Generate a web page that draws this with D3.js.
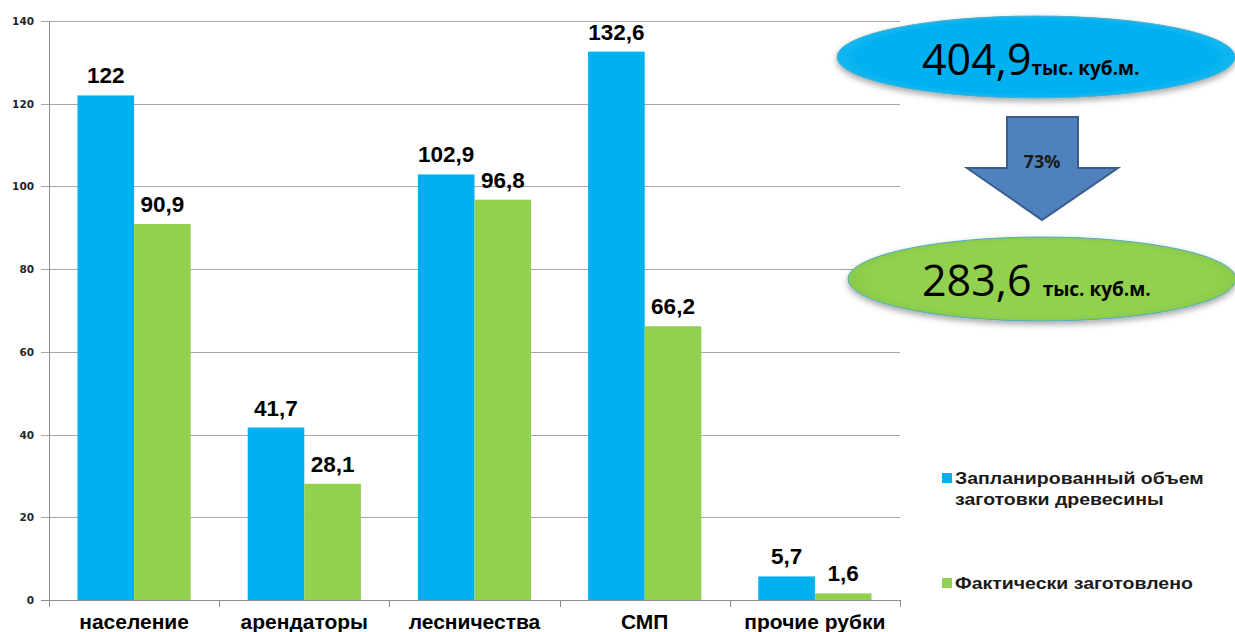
<!DOCTYPE html>
<html>
<head>
<meta charset="utf-8">
<script src="https://cdn.jsdelivr.net/npm/d3@7"></script>
<style>
  body { margin: 0; background: #fff; }
  svg { display: block; }
</style>
</head>
<body>
<div id="chart"></div>
<script>
// Data
var categories = ["население", "арендаторы", "лесничества", "СМП", "прочие рубки"];
var seriesNames = ["Запланированный объем заготовки древесины", "Фактически заготовлено"];
var planned = [122, 41.7, 102.9, 132.6, 5.7];
var actual = [90.9, 28.1, 96.8, 66.2, 1.6];
var yTicks = [0, 20, 40, 60, 80, 100, 120, 140];
var totalPlanned = "404,9";
var totalActual = "283,6";
var percentDone = "73%";
var unitLabel = "тыс. куб.м.";

var colors = ["#00B0F0", "#92D050"];

var width = 1235, height = 632;
// plot area (note: "top" is a reserved window prop, so use a prefix)
var plotLeft = 49, plotRight = 900, plotTop = 21, plotBottom = 600;

var svg = d3.select("#chart").append("svg")
  .attr("width", width)
  .attr("height", height);

var defs = svg.append("defs");
var shadow = defs.append("filter").attr("id", "shadow")
  .attr("x", "-10%").attr("y", "-20%").attr("width", "120%").attr("height", "150%");
shadow.append("feDropShadow")
  .attr("dx", 0).attr("dy", 3).attr("stdDeviation", 3)
  .attr("flood-color", "#000").attr("flood-opacity", 0.35);

var blueGrad = defs.append("radialGradient").attr("id", "blueGrad")
  .attr("cx", "50%").attr("cy", "50%").attr("r", "55%");
blueGrad.append("stop").attr("offset", "0%").attr("stop-color", "#00B0F0");
blueGrad.append("stop").attr("offset", "80%").attr("stop-color", "#00B0F0");
blueGrad.append("stop").attr("offset", "100%").attr("stop-color", "#25BDF2");

var greenGrad = defs.append("radialGradient").attr("id", "greenGrad")
  .attr("cx", "50%").attr("cy", "50%").attr("r", "55%");
greenGrad.append("stop").attr("offset", "0%").attr("stop-color", "#92D050");
greenGrad.append("stop").attr("offset", "80%").attr("stop-color", "#92D050");
greenGrad.append("stop").attr("offset", "100%").attr("stop-color", "#86C444");

// scales
var x0 = d3.scaleBand().domain(categories).range([plotLeft, plotRight]);
var bw = x0.bandwidth();
var x1 = d3.scaleBand().domain([0, 1]).range([28.5, bw - 28.5]);
var y = d3.scaleLinear().domain([0, 140]).range([plotBottom, plotTop]);

// gridlines
svg.append("g")
  .selectAll("line")
  .data(yTicks)
  .enter()
  .append("line")
    .attr("x1", plotLeft - 8)
    .attr("x2", plotRight)
    .attr("y1", d => Math.round(y(d)) + 0.5)
    .attr("y2", d => Math.round(y(d)) + 0.5)
    .attr("stroke", d => d == 0 ? "#8c8c8c" : "#a6a6a6")
    .attr("stroke-width", 1)

// y axis line
svg.append("line")
  .attr("x1", plotLeft + 0.5).attr("x2", plotLeft + 0.5)
  .attr("y1", y(140)).attr("y2", y(0))
  .attr("stroke", "#8c8c8c")

// y tick labels
svg.append("g")
  .selectAll("text")
  .data(yTicks)
  .enter()
  .append("text")
    .attr("x", 34)
    .attr("y", d => y(d) + 4)
    .attr("text-anchor", "end")
    .style("font-family", "DejaVu Sans")
    .style("font-weight", "bold")
    .style("font-size", "10.5px")
    .style("fill", "#262626")
    .text(d => d)

// category ticks
svg.append("g")
  .selectAll("line")
  .data(d3.range(categories.length + 1))
  .enter()
  .append("line")
    .attr("x1", i => Math.round(plotLeft + i * bw) + 0.5)
    .attr("x2", i => Math.round(plotLeft + i * bw) + 0.5)
    .attr("y1", plotBottom)
    .attr("y2", plotBottom + 7)
    .attr("stroke", "#8c8c8c")

// bars
var groups = svg.append("g")
  .selectAll("g")
  .data(categories)
  .enter()
  .append("g")
    .attr("transform", d => "translate(" + x0(d) + ",0)");

var barData = function(d) { var i = categories.indexOf(d); return [planned[i], actual[i]]; };

groups.selectAll("rect")
  .data(barData)
  .enter()
  .append("rect")
    .attr("x", (v, j) => x1(j))
    .attr("width", x1.bandwidth())
    .attr("y", v => y(v))
    .attr("height", v => y(0) - y(v))
    .attr("fill", (v, j) => colors[j])

// value labels
groups.selectAll("text.val")
  .data(barData)
  .enter()
  .append("text")
    .attr("class", "val")
    .attr("x", (v, j) => x1(j) + x1.bandwidth() / 2)
    .attr("y", v => y(v) - 12)
    .attr("text-anchor", "middle")
    .style("font-family", "Liberation Sans, Arial")
    .style("font-weight", "bold")
    .style("font-size", "22.5px")
    .style("fill", "#000")
    .text(v => String(v).replace(".", ","))

// category labels
svg.append("g")
  .selectAll("text")
  .data(categories)
  .enter()
  .append("text")
    .attr("x", d => x0(d) + bw / 2)
    .attr("y", 629)
    .attr("text-anchor", "middle")
    .style("font-family", "Liberation Sans, Arial")
    .style("font-weight", "bold")
    .style("font-size", "21px")
    .style("fill", "#000")
    .text(d => d)

// legend
var legendRows = [
  { lines: ["Запланированный объем", "заготовки древесины"], y: 484 },
  { lines: ["Фактически заготовлено"], y: 589 }
];
var legend = svg.append("g");
legendRows.forEach(function(row, i) {
  legend.append("rect")
    .attr("x", 942).attr("y", row.y - 11)
    .attr("width", 10).attr("height", 10)
    .attr("fill", colors[i]);
  row.lines.forEach(function(line, k) {
    legend.append("text")
      .attr("transform", "translate(955," + (row.y + k * 21) + ") scale(1.22,1)")
      .style("font-family", "Liberation Sans, Arial")
      .style("font-weight", "bold")
      .style("font-size", "16px")
      .style("fill", "#1a1a1a")
      .text(line);
  });
});

// summary ellipses
var blueE = { cx: 1036, cy: 57, rx: 199, ry: 41 };
svg.append("ellipse")
  .attr("cx", blueE.cx).attr("cy", blueE.cy)
  .attr("rx", blueE.rx).attr("ry", blueE.ry)
  .attr("fill", "url(#blueGrad)")
  .attr("stroke", "#4BACC6").attr("stroke-width", 1)
  .attr("filter", "url(#shadow)")

var t1 = svg.append("text")
  .attr("x", 922).attr("y", 75)
  .style("font-family", "Open Sans")
  .style("fill", "#000");
t1.append("tspan").style("font-size", "43px").text(totalPlanned);
t1.append("tspan").style("font-size", "19px").style("font-weight", "bold").text(unitLabel);

// arrow
var ax = 1042;
var arrow = [
  [ax - 35, 117], [ax + 36, 117], [ax + 36, 168], [ax + 76, 168],
  [ax, 220], [ax - 75, 168], [ax - 35, 168]
];
svg.append("path")
  .attr("d", d3.line()(arrow) + "Z")
  .attr("fill", "#4F81BD")
  .attr("stroke", "#385D8A")
  .attr("stroke-width", 2)

svg.append("text")
  .attr("x", ax).attr("y", 168)
  .attr("text-anchor", "middle")
  .style("font-family", "Open Sans")
  .style("font-weight", "bold")
  .style("font-size", "18px")
  .style("fill", "#1a1a1a")
  .text(percentDone)

var greenE = { cx: 1042, cy: 279, rx: 194, ry: 42 };
svg.append("ellipse")
  .attr("cx", greenE.cx).attr("cy", greenE.cy)
  .attr("rx", greenE.rx).attr("ry", greenE.ry)
  .attr("fill", "url(#greenGrad)")
  .attr("stroke", "#4BACC6").attr("stroke-width", 1)
  .attr("filter", "url(#shadow)")

var t2 = svg.append("text")
  .attr("x", 922).attr("y", 296)
  .style("font-family", "Open Sans")
  .style("fill", "#000");
t2.append("tspan").style("font-size", "43px").text(totalActual + " ");
t2.append("tspan").style("font-size", "19px").style("font-weight", "bold").text(unitLabel);
</script>
</body>
</html>
